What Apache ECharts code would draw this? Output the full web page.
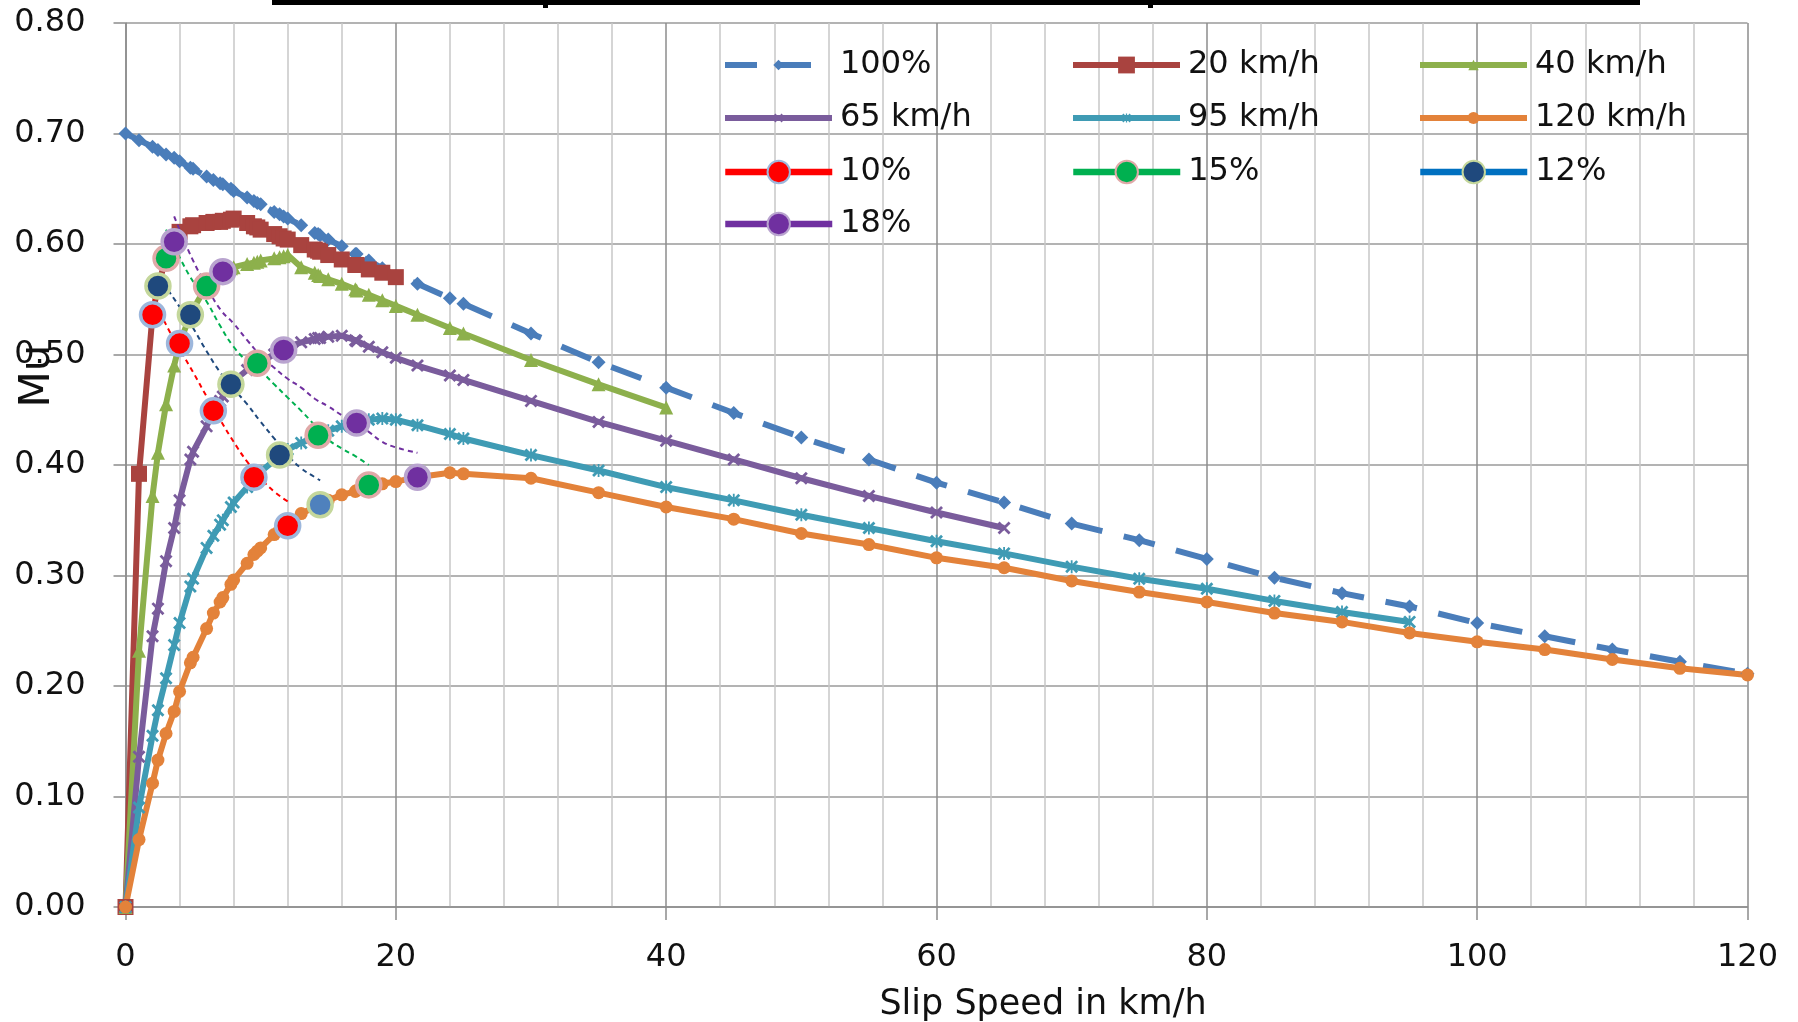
<!DOCTYPE html>
<html><head><meta charset="utf-8">
<script src="https://cdn.jsdelivr.net/npm/echarts@6/dist/echarts.min.js"></script>
<style>html,body{margin:0;padding:0;background:#fff}#c{width:1798px;height:1022px}</style>
</head><body><div id="c"></div>
<script>
// ---------- DATA ----------
const xTicks = [0, 20, 40, 60, 80, 100, 120];
const yTicks = [0, 0.1, 0.2, 0.3, 0.4, 0.5, 0.6, 0.7, 0.8];
const xTitle = 'Slip Speed in km/h';
const yTitle = 'Mu';

// shared slip-speed grid (km/h)
const slipSpeed = [0, 1, 2, 2.4, 3, 3.6, 4, 4.8, 5, 6,
  6.5, 7, 7.2, 7.8, 8, 9, 9.5, 9.75, 10, 11,
  11.4, 11.7, 12, 13, 14, 14.25, 14.4, 15, 16, 17,
  17.1, 18, 19, 20, 21.6, 24, 25, 30, 35, 40,
  45, 50, 55, 60, 65, 70, 75, 80, 85, 90,
  95, 100, 105, 110, 115, 120];

const mu100 = [0.700, 0.694, 0.688, 0.685, 0.681, 0.678, 0.675, 0.669, 0.668, 0.661,
  0.658, 0.655, 0.654, 0.650, 0.648, 0.642, 0.639, 0.637, 0.636, 0.629,
  0.627, 0.625, 0.623, 0.617, 0.610, 0.609, 0.608, 0.604, 0.598, 0.591,
  0.591, 0.585, 0.578, 0.571, 0.564, 0.551, 0.546, 0.519, 0.493, 0.470,
  0.447, 0.425, 0.405, 0.384, 0.366, 0.347, 0.332, 0.315, 0.298, 0.284,
  0.272, 0.257, 0.245, 0.233, 0.222, 0.211];
const mu20 = [0, 0.392, 0.536, 0.562, 0.587, 0.602, 0.611, 0.616, 0.617, 0.619,
  0.620, 0.620, 0.621, 0.622, 0.623, 0.619, 0.616, 0.615, 0.613, 0.609,
  0.607, 0.605, 0.604, 0.599, 0.595, 0.594, 0.593, 0.590, 0.586, 0.581,
  0.581, 0.577, 0.574, 0.570];
const mu40 = [0, 0.232, 0.372, 0.411, 0.455, 0.490, 0.510, 0.536, 0.541, 0.562,
  0.569, 0.573, 0.575, 0.578, 0.579, 0.582, 0.583, 0.584, 0.585, 0.587,
  0.588, 0.589, 0.590, 0.579, 0.574, 0.572, 0.571, 0.568, 0.564, 0.559,
  0.558, 0.554, 0.549, 0.544, 0.536, 0.524, 0.519, 0.495, 0.473, 0.452];
const mu65 = [0, 0.136, 0.245, 0.270, 0.313, 0.343, 0.368, 0.405, 0.412, 0.435,
  0.449, 0.458, 0.462, 0.473, 0.476, 0.486, 0.490, 0.492, 0.494, 0.500,
  0.502, 0.504, 0.507, 0.511, 0.514, 0.515, 0.515, 0.516, 0.517, 0.513,
  0.512, 0.507, 0.502, 0.497, 0.490, 0.481, 0.477, 0.458, 0.439, 0.422,
  0.405, 0.388, 0.372, 0.357, 0.343];
const mu95 = [0, 0.090, 0.155, 0.178, 0.207, 0.237, 0.257, 0.290, 0.297, 0.325,
  0.336, 0.346, 0.350, 0.362, 0.366, 0.380, 0.388, 0.391, 0.394, 0.404,
  0.409, 0.411, 0.414, 0.420, 0.425, 0.427, 0.428, 0.431, 0.435, 0.438,
  0.438, 0.441, 0.442, 0.441, 0.436, 0.428, 0.424, 0.409, 0.395, 0.380,
  0.368, 0.355, 0.343, 0.331, 0.320, 0.308, 0.297, 0.288, 0.277, 0.267,
  0.258];
const mu120 = [0, 0.061, 0.112, 0.133, 0.157, 0.177, 0.195, 0.221, 0.226, 0.252,
  0.266, 0.276, 0.280, 0.292, 0.296, 0.311, 0.319, 0.322, 0.325, 0.337,
  0.341, 0.343, 0.345, 0.356, 0.362, 0.363, 0.364, 0.368, 0.373, 0.376,
  0.377, 0.381, 0.383, 0.385, 0.389, 0.393, 0.392, 0.388, 0.375, 0.362,
  0.351, 0.338, 0.328, 0.316, 0.307, 0.295, 0.285, 0.276, 0.266, 0.258,
  0.248, 0.240, 0.233, 0.224, 0.216, 0.210];

// slip-percentage points
const slip10 = [2, 4, 6.5, 9.5, 12];
const mu10 = [0.536, 0.510, 0.449, 0.389, 0.345];
const slip12 = [2.4, 4.8, 7.8, 11.4, 14.4];
const mu12 = [0.562, 0.536, 0.473, 0.409, 0.364];
const slip15 = [3, 6, 9.75, 14.25, 18];
const mu15 = [0.587, 0.562, 0.492, 0.427, 0.382];
const slip18 = [3.6, 7.2, 11.7, 17.1, 21.6];
const mu18 = [0.602, 0.575, 0.504, 0.438, 0.389];

// dotted trend lines through the percentage points
const trend10x = [2, 3, 4, 5, 6, 7, 8, 9, 10, 11, 12];
const trend10y = [0.553, 0.527, 0.505, 0.484, 0.462, 0.441, 0.421, 0.403, 0.388, 0.376, 0.367];
const trend12x = [2.4, 3, 4, 5, 6, 7, 8, 9, 10, 11, 12, 13, 14, 14.4];
const trend12y = [0.572, 0.561, 0.543, 0.524, 0.503, 0.484, 0.469, 0.455, 0.439, 0.424, 0.409, 0.397, 0.389, 0.386];
const trend15x = [3, 4, 5, 6, 7, 8, 9, 10, 11, 12, 13, 14, 15, 16, 17, 18];
const trend15y = [0.613, 0.588, 0.566, 0.548, 0.526, 0.507, 0.494, 0.485, 0.473, 0.461, 0.449, 0.436, 0.423, 0.415, 0.408, 0.400];
const trend18x = [3.6, 4, 5, 6, 7, 8, 9, 10, 11, 12, 13, 14, 15, 16, 17, 18, 19, 20, 21.6];
const trend18y = [0.625, 0.613, 0.585, 0.562, 0.541, 0.528, 0.513, 0.499, 0.488, 0.478, 0.470, 0.460, 0.453, 0.445, 0.438, 0.430, 0.421, 0.416, 0.411];

const legendNames = ['100%', '20 km/h', '40 km/h', '65 km/h', '95 km/h', '120 km/h', '10%', '15%', '12%', '18%'];

// ---------- CHART ----------
const pts = (xs, ys) => ys.map((y, i) => [xs[i], y]);
const FONT = 'DejaVu Sans';
const xPath = 'path://M0,1.5L1.5,0L5,3.5L8.5,0L10,1.5L6.5,5L10,8.5L8.5,10L5,6.5L1.5,10L0,8.5L3.5,5Z';
const starPath = xPath + 'M4.3,0L5.7,0L5.7,10L4.3,10Z';

function speedSeries(name, ys, color, symbol, size, lineType) {
  return {
    name, type: 'line', data: pts(slipSpeed, ys), symbol, symbolSize: size,
    showSymbol: true, z: 2,
    lineStyle: { color, width: 6, type: lineType || 'solid' },
    itemStyle: { color }
  };
}
function pctSeries(name, xs, ys, fill, border) {
  return {
    name, type: 'line', data: pts(xs, ys), symbol: 'circle', symbolSize: 24, z: 6,
    lineStyle: { opacity: 0 },
    itemStyle: { color: fill, borderColor: border, borderWidth: 3.5 }
  };
}
function trendSeries(xs, ys, color) {
  return {
    name: '', type: 'line', data: pts(xs, ys), symbol: 'none', smooth: true, z: 4,
    lineStyle: { color, width: 2, type: [5, 4] }, silent: true
  };
}

const s12 = pctSeries('12%', slip12, mu12, '#1F497D', '#C4D79B');
s12.data[4] = { value: s12.data[4], itemStyle: { color: '#4F81BD' } };

const series = [
  speedSeries('100%', mu100, '#4A7DBA', 'diamond', 14, [32, 22]),
  speedSeries('20 km/h', mu20, '#A9433F', 'rect', 16),
  speedSeries('40 km/h', mu40, '#8DB04C', 'triangle', 14),
  speedSeries('65 km/h', mu65, '#7A5C9C', xPath, 13),
  speedSeries('95 km/h', mu95, '#3F9BB4', starPath, 13),
  speedSeries('120 km/h', mu120, '#E3823A', 'circle', 13),
  trendSeries(trend10x, trend10y, '#FF0000'),
  trendSeries(trend12x, trend12y, '#1F497D'),
  trendSeries(trend15x, trend15y, '#00B050'),
  trendSeries(trend18x, trend18y, '#7030A0'),
  pctSeries('10%', slip10, mu10, '#FF0000', '#9DB7DC'),
  pctSeries('15%', slip15, mu15, '#00B050', '#E0A9A8'),
  s12,
  pctSeries('18%', slip18, mu18, '#7030A0', '#B9A4CF')
];

// legend layout: [left, rowCenter, itemHeight, lineColor override]
const legendLayout = {
  '100%': [722, 65, 13], '20 km/h': [1070, 65, 21], '40 km/h': [1417, 65, 13],
  '65 km/h': [722, 118, 11], '95 km/h': [1070, 118, 11], '120 km/h': [1417, 118, 15],
  '10%': [722, 172, 28, '#FF0000'], '15%': [1070, 172, 28, '#00B050'], '12%': [1417, 172, 28, '#0070C0'],
  '18%': [722, 224, 28, '#7030A0']
};
const legends = legendNames.map(n => {
  const [left, cy, h, lc] = legendLayout[n];
  const item = { name: n };
  if (lc) item.lineStyle = { color: lc, opacity: 1, width: 6.5, type: 'solid' };
  return {
    left, top: cy - 18, padding: 0, orient: 'vertical', selectedMode: false,
    itemWidth: 107, itemHeight: h,
    lineStyle: { width: 6 },
    textStyle: { fontFamily: FONT, fontSize: 32, lineHeight: 36, color: '#111', padding: [0, 0, 0, 3] },
    data: [item]
  };
});

const axisGray = '#8c8c8c';
const option = {
  animation: false,
  backgroundColor: '#fff',
  grid: { left: 125.5, right: 50.5, top: 23, bottom: 115 },
  legend: legends,
  xAxis: {
    type: 'value', min: xTicks[0], max: xTicks[xTicks.length - 1], interval: xTicks[1] - xTicks[0],
    axisLine: { show: true, onZero: false, lineStyle: { color: axisGray, width: 1.5 } },
    axisTick: { show: true, length: 13, lineStyle: { color: axisGray, width: 1.5 } },
    axisLabel: { fontFamily: FONT, fontSize: 32, color: '#111', margin: 35 },
    splitLine: { show: true, lineStyle: { color: axisGray, width: 1.5 } },
    minorTick: { show: false, splitNumber: 5 },
    minorSplitLine: { show: true, lineStyle: { color: '#c8c8c8', width: 1.5 } }
  },
  yAxis: {
    type: 'value', min: yTicks[0], max: yTicks[yTicks.length - 1], interval: 0.1,
    axisLine: { show: true, lineStyle: { color: axisGray, width: 1.5 } },
    axisTick: { show: true, length: 12, lineStyle: { color: axisGray, width: 1.5 } },
    axisLabel: { fontFamily: FONT, fontSize: 32, color: '#111', margin: 40, formatter: v => v.toFixed(2) },
    splitLine: { show: true, lineStyle: { color: '#9a9a9a', width: 1.5 } }
  },
  graphic: [
    { type: 'rect', shape: { x: 272, y: 0, width: 1368, height: 5 }, style: { fill: '#000' } },
    { type: 'rect', shape: { x: 543, y: 0, width: 5, height: 8 }, style: { fill: '#000' } },
    { type: 'rect', shape: { x: 1148, y: 0, width: 5, height: 8 }, style: { fill: '#000' } },
    { type: 'text', x: 38, y: 376, rotation: Math.PI / 2,
      style: { text: yTitle, font: '42px "DejaVu Sans"', fill: '#111', align: 'center', verticalAlign: 'middle' } },
    { type: 'text', x: 1043, y: 1005,
      style: { text: xTitle, font: '35px "DejaVu Sans"', fill: '#111', align: 'center', verticalAlign: 'middle' } }
  ],
  series
};
const chart = echarts.init(document.getElementById('c'), null, { renderer: 'canvas' });
chart.setOption(option);
</script>
</body></html>
